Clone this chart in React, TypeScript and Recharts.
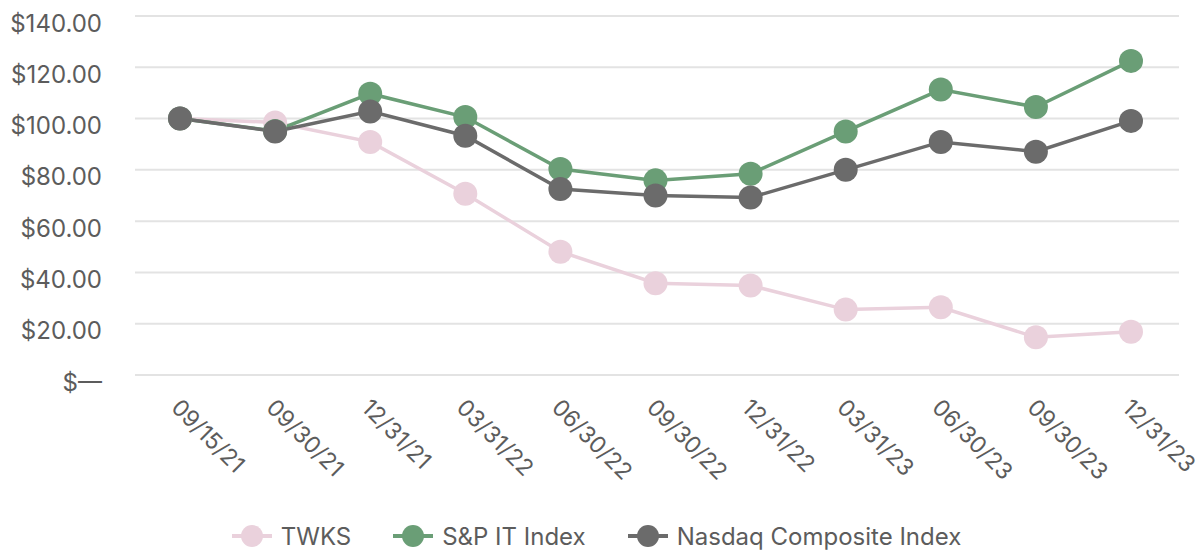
import { CartesianGrid, Legend, Line, LineChart, XAxis, YAxis } from "recharts";

const dates = [
  "09/15/21",
  "09/30/21",
  "12/31/21",
  "03/31/22",
  "06/30/22",
  "09/30/22",
  "12/31/22",
  "03/31/23",
  "06/30/23",
  "09/30/23",
  "12/31/23",
];

const twks = [100, 98.5, 90.9, 70.7, 48.1, 35.8, 34.9, 25.5, 26.4, 14.7, 16.9];
const spIt = [100, 95.2, 109.7, 100.6, 80.3, 75.9, 78.5, 95.0, 111.3, 104.5, 122.5];
const nasdaq = [100, 95.0, 102.8, 93.3, 72.5, 70.0, 69.2, 80.0, 90.9, 87.1, 99.1];

const yTicks = [0, 20, 40, 60, 80, 100, 120, 140];

const SERIES = [
  { key: "twks", name: "TWKS", color: "#EAD1DC" },
  { key: "spIt", name: "S&P IT Index", color: "#6A9E76" },
  { key: "nasdaq", name: "Nasdaq Composite Index", color: "#6B6B6B" },
];

const TEXT = "#5C5C5C";
const FONT = "Inter, 'Noto Sans', sans-serif";
const FS = 24;

const data = dates.map((date, i) => ({
  date,
  twks: twks[i],
  spIt: spIt[i],
  nasdaq: nasdaq[i],
}));

const money = (v: number) => (v === 0 ? "$—" : `$${v.toFixed(2)}`);

function YTick({ x, y, payload }: any) {
  return (
    <text
      x={x}
      y={y + 7}
      textAnchor="end"
      dominantBaseline="central"
      fill={TEXT}
      fontSize={FS}
      fontFamily={FONT}
    >
      {money(payload.value)}
    </text>
  );
}

// date labels hang down-right from each point
function XTick({ x, y, payload }: any) {
  return (
    <text
      x={0}
      y={0}
      transform={`translate(${x - 10},${y + 26}) rotate(45)`}
      textAnchor="start"
      fill={TEXT}
      fontSize={23}
      fontFamily={FONT}
    >
      {payload.value}
    </text>
  );
}

function LegendBox() {
  return (
    <div
      style={{
        height: 40,
        display: "flex",
        justifyContent: "center",
        alignItems: "center",
        paddingLeft: 14,
        fontFamily: FONT,
        fontSize: FS,
        color: TEXT,
      }}
    >
      {SERIES.map((s, i) => (
        <div
          key={s.key}
          style={{
            display: "flex",
            alignItems: "center",
            marginRight: i < SERIES.length - 1 ? 42 : 0,
          }}
        >
          <svg width={40} height={24} style={{ marginRight: 9 }}>
            <line x1={0} y1={12} x2={40} y2={12} stroke={s.color} strokeWidth={4} />
            <circle cx={20} cy={12} r={11} fill={s.color} />
          </svg>
          <span>{s.name}</span>
        </div>
      ))}
    </div>
  );
}

export default function App() {
  return (
    <div style={{ position: "absolute", left: 0, top: 0, background: "#fff" }}>
      <LineChart
        width={1201}
        height={556}
        data={data}
        margin={{ top: 16, right: 22, bottom: 0, left: 0 }}
        style={{ fontFamily: FONT }}
      >
        <CartesianGrid vertical={false} stroke="#E3E3E3" strokeWidth={2} />
        <XAxis
          dataKey="date"
          interval={0}
          height={141}
          axisLine={false}
          tickLine={false}
          padding={{ left: 45, right: 48 }}
          tick={<XTick />}
        />
        <YAxis
          domain={[0, 140]}
          ticks={yTicks}
          width={135}
          axisLine={false}
          tickLine={false}
          tickSize={6}
          tickMargin={27}
          tick={<YTick />}
        />
        <Legend verticalAlign="bottom" content={<LegendBox />} />
        {SERIES.map((s) => (
          <Line
            key={s.key}
            dataKey={s.key}
            name={s.name}
            stroke={s.color}
            strokeWidth={3.5}
            dot={{ r: 12, fill: s.color, stroke: "none" }}
            activeDot={false}
            isAnimationActive={false}
          />
        ))}
      </LineChart>
    </div>
  );
}
